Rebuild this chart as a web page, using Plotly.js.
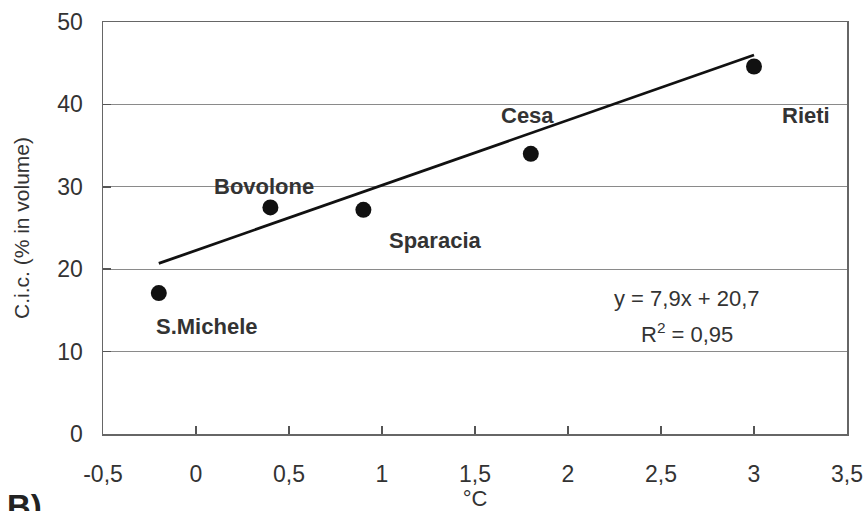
<!DOCTYPE html>
<html>
<head>
<meta charset="utf-8">
<script src="https://cdn.plot.ly/plotly-3.0.1.min.js"></script>
<style>html,body{margin:0;padding:0;background:#fff;}#chart{width:863px;height:511px;}</style>
</head>
<body>
<div id="chart"></div>
<script>
// Data
const sites = ["S.Michele", "Bovolone", "Sparacia", "Cesa", "Rieti"];
const tempX = [-0.2, 0.4, 0.9, 1.8, 3.0];
const cicY = [17.1, 27.5, 27.2, 34.0, 44.6];
const trendX = [-0.2, 3.0];
const trendY = [20.7, 46.0];
const labelX = [0.054, 0.366, 1.285, 1.78, 3.28];
const labelY = [13.1, 30.0, 23.5, 38.6, 38.6];
const xTicks = [-0.5, 0, 0.5, 1, 1.5, 2, 2.5, 3, 3.5];
const xTickText = ["-0,5", "0", "0,5", "1", "1,5", "2", "2,5", "3", "3,5"];
const yTicks = [0, 10, 20, 30, 40, 50];
const equation = "y = 7,9x + 20,7";
const r2 = "R<sup>2</sup> = 0,95";
const panelTag = "B)";

const FONT = "Liberation Sans, Arial, sans-serif";
const TXT = "#333";

const traces = [
  {x: trendX, y: trendY, mode: "lines", type: "scatter",
   line: {color: "#111", width: 2.8}, hoverinfo: "skip", showlegend: false},
  {x: tempX, y: cicY, mode: "markers", type: "scatter",
   marker: {color: "#111", size: 16}, showlegend: false}
];

const annotations = sites.map((s, i) => ({
  x: labelX[i], y: labelY[i], xref: "x", yref: "y", text: "<b>" + s + "</b>",
  showarrow: false, font: {family: FONT, size: 22, color: TXT}
}));
annotations.push({x: 2.64, y: 16.5, xref: "x", yref: "y", text: equation, showarrow: false,
  font: {family: FONT, size: 22, color: TXT}});
annotations.push({x: 2.64, y: 12.3, xref: "x", yref: "y", text: r2, showarrow: false,
  font: {family: FONT, size: 22, color: TXT}});
annotations.push({x: 0, y: 0, xref: "paper", yref: "paper", xanchor: "left", yanchor: "top",
  text: "<b>" + panelTag + "</b>", showarrow: false, yshift: -52, xshift: -98,
  font: {family: FONT, size: 33, color: "#222"}});

const layout = {
  width: 863, height: 511,
  margin: {l: 103, r: 16, t: 22, b: 77},
  paper_bgcolor: "#fff", plot_bgcolor: "#fff",
  font: {family: FONT, size: 22, color: TXT},
  xaxis: {
    range: [-0.5, 3.5], tickvals: xTicks, ticktext: xTickText,
    tickfont: {family: FONT, size: 23, color: TXT},
    ticks: "inside", ticklen: 8, tickcolor: "#555", tickwidth: 1.5,
    showgrid: false, zeroline: false, showline: true, linecolor: "#666", linewidth: 1.5,
    mirror: true, ticklabelstandoff: 19,
    title: {text: "°C", standoff: 21, font: {family: FONT, size: 22, color: TXT}}
  },
  yaxis: {
    range: [0, 50], tickvals: yTicks,
    tickfont: {family: FONT, size: 23, color: TXT},
    ticks: "inside", ticklen: 8, tickcolor: "#555", tickwidth: 1.5,
    showgrid: true, gridcolor: "#8a8a8a", gridwidth: 1.3,
    zeroline: false, showline: true, linecolor: "#666", linewidth: 1.5,
    mirror: true, ticklabelstandoff: 14,
    title: {text: "C.i.c. (% in volume)", standoff: 22, font: {family: FONT, size: 21, color: TXT}}
  },
  annotations: annotations
};

Plotly.newPlot("chart", traces, layout, {staticPlot: true, displayModeBar: false});
</script>
</body>
</html>
